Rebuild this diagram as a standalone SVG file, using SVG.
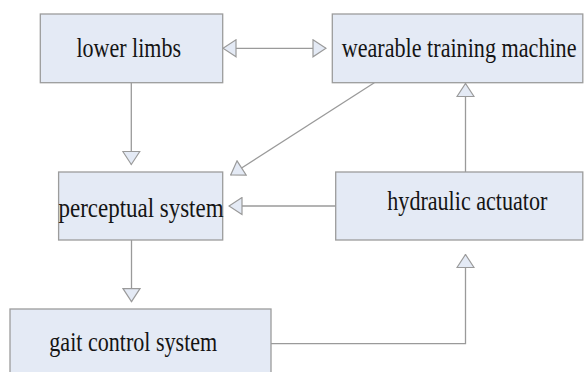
<svg xmlns="http://www.w3.org/2000/svg" width="584" height="372" viewBox="0 0 584 372">
<style>
.box{fill:#e4eaf5;stroke:#9c9c9c;stroke-width:1.3}
.lbl{font-family:"Liberation Serif","Times New Roman",serif;font-size:22px;fill:#141414}
.ln{fill:none;stroke:#9a9a9a;stroke-width:1.3}
.ar{marker-end:url(#tri)}
</style>
<defs>
<marker id="tri" viewBox="-1 -1 15 19" refX="13" refY="8.5" markerWidth="15" markerHeight="19" markerUnits="userSpaceOnUse" orient="auto-start-reverse">
<path d="M0,0 L13,8.5 L0,17 Z" fill="#e4eaf5" stroke="#9a9a9a" stroke-width="1.2"/>
</marker>
</defs>
<rect width="584" height="372" fill="#ffffff"/>
<g id="connectors">
<line class="ln" x1="223" y1="48.3" x2="326" y2="48.3" marker-start="url(#tri)" marker-end="url(#tri)"/>
<line class="ln ar" x1="131.3" y1="82.7" x2="131.3" y2="164.5"/>
<line class="ln ar" x1="374.3" y1="82.7" x2="230.7" y2="175"/>
<line class="ln ar" x1="335.7" y1="206" x2="229" y2="206"/>
<line class="ln ar" x1="465.5" y1="172" x2="465.5" y2="83.5"/>
<line class="ln ar" x1="131.5" y1="240" x2="131.5" y2="301.7"/>
<polyline class="ln ar" points="271,343.7 465.5,343.7 465.5,254.5"/>
</g>
<g id="lower-limbs">
<rect class="box" x="40.3" y="14" width="182.4" height="68.7"/>
<text class="lbl" transform="translate(76.5,56.7) scale(1,1.24)" textLength="104.5" lengthAdjust="spacingAndGlyphs">lower limbs</text>
</g>
<g id="wearable-training-machine">
<rect class="box" x="332.3" y="14" width="250.5" height="68.7"/>
<text class="lbl" transform="translate(341.7,56.7) scale(1,1.24)" textLength="234.8" lengthAdjust="spacingAndGlyphs">wearable training machine</text>
</g>
<g id="perceptual-system">
<rect class="box" x="58.6" y="172" width="164.1" height="68"/>
<text class="lbl" transform="translate(58.5,216.5) scale(1,1.24)" textLength="165" lengthAdjust="spacingAndGlyphs">perceptual system</text>
</g>
<g id="hydraulic-actuator">
<rect class="box" x="335.7" y="172" width="247.1" height="68"/>
<text class="lbl" transform="translate(387.3,210) scale(1,1.24)" textLength="160" lengthAdjust="spacingAndGlyphs">hydraulic actuator</text>
</g>
<g id="gait-control-system">
<rect class="box" x="10" y="309" width="261" height="75"/>
<text class="lbl" transform="translate(49.3,350.5) scale(1,1.24)" textLength="168" lengthAdjust="spacingAndGlyphs">gait control system</text>
</g>
</svg>
